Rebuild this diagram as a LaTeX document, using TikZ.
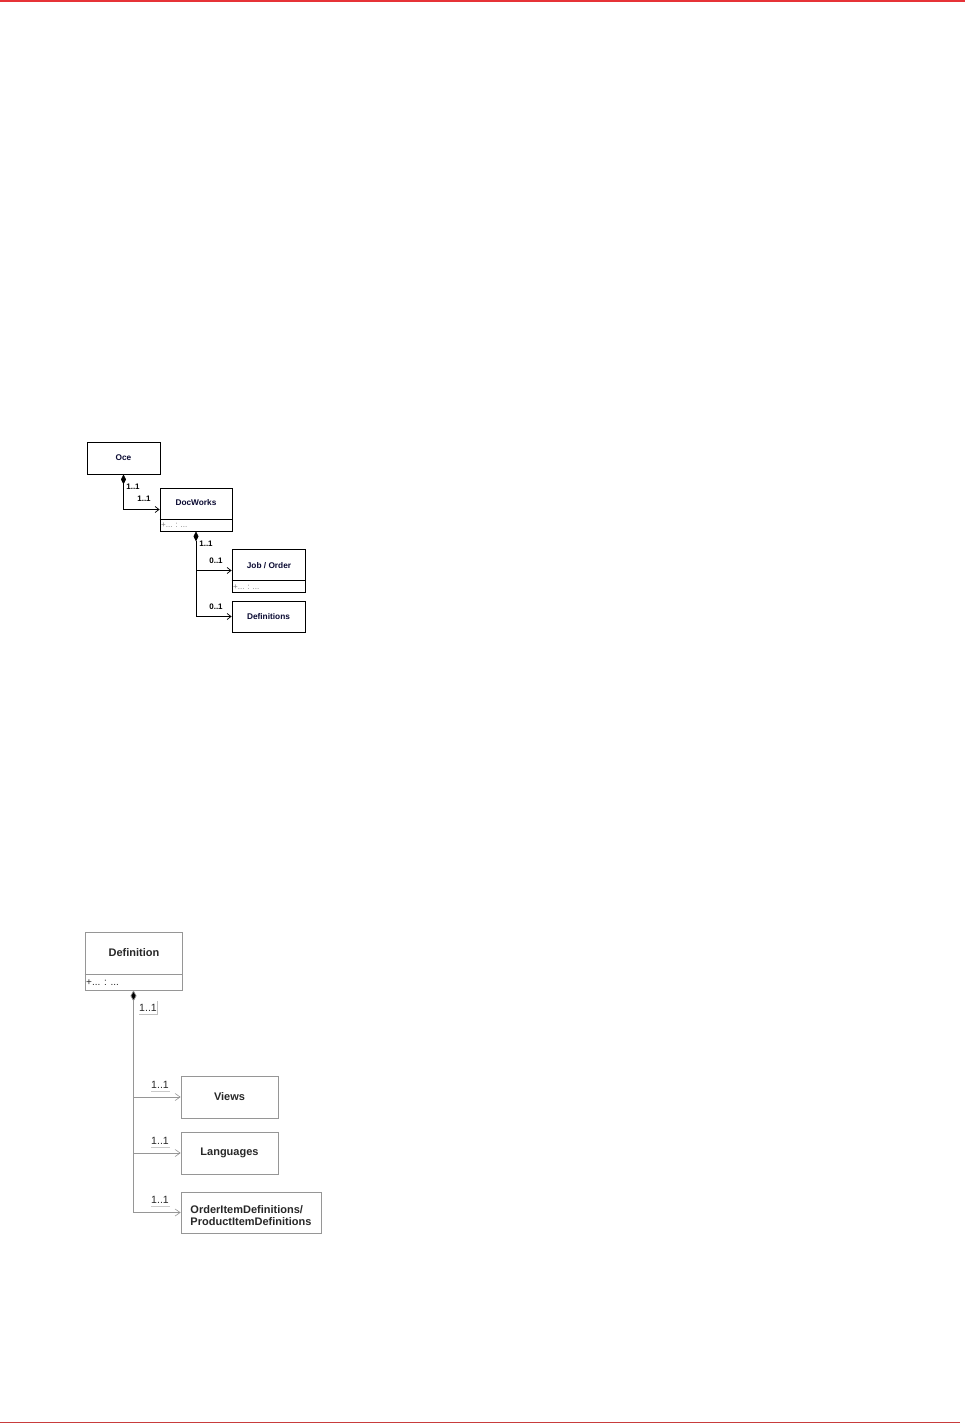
\documentclass[tikz,border=0pt]{standalone}
\usepackage{fontspec}
\setmainfont{Liberation Sans}
\usetikzlibrary{arrows.meta,calc}
\definecolor{redline}{RGB}{230,50,55}
\definecolor{redline2}{RGB}{200,60,60}
\definecolor{boxgray}{RGB}{150,150,150}
\definecolor{txtgray}{RGB}{40,40,40}
\definecolor{navytxt}{RGB}{10,10,50}
\tikzset{
  x=1pt,y=-1pt,
  topbox/.style={draw=black,line width=0.8pt,fill=white,inner sep=0pt,font=\fontsize{8.3}{9.6}\selectfont\bfseries,text=navytxt},
  botbox/.style={draw=boxgray,line width=0.7pt,fill=white,inner sep=0pt,font=\fontsize{11}{12.5}\selectfont\bfseries,text=txtgray},
  toplink/.style={draw=black,line width=0.8pt,-{Straight Barb[length=4pt,width=6pt,line width=0.7pt]}},
  toplinkd/.style={toplink,{Diamond[length=10pt,width=5pt]}-{Straight Barb[length=4pt,width=6pt,line width=0.7pt]}},
  botlink/.style={draw=boxgray,line width=0.7pt,-{Straight Barb[length=5pt,width=7pt,line width=0.6pt]}},
  botlinkd/.style={botlink,{Diamond[length=11pt,width=6pt,fill=black]}-{Straight Barb[length=5pt,width=7pt,line width=0.6pt]}},
  toplbl/.style={inner sep=0pt,font=\fontsize{8}{9}\selectfont\bfseries,text=black},
  botlbl/.style={inner sep=0pt,font=\fontsize{10.5}{12}\selectfont,text=txtgray},
  attrtop/.style={inner sep=0pt,anchor=west,font=\fontsize{8}{9}\selectfont,text=gray},
  attrbot/.style={inner sep=0pt,anchor=west,font=\fontsize{10}{11}\selectfont,text=txtgray},
}
\begin{document}
\begin{tikzpicture}
\useasboundingbox (0,0) rectangle (965,1424);
\fill[white] (0,0) rectangle (965,1424);
% page rules
\draw[redline,line width=1.5pt] (0,0.8) -- (965,0.8);
\draw[redline2,line width=1.2pt] (0,1422.8) -- (960,1422.8);

% ---------- top diagram ----------
\node[topbox,minimum width=73,minimum height=32] (oce) at (123.5,458) {Oce};
\node[topbox,minimum width=72,minimum height=43] (dw) at (196,509.5) {};
\node[topbox,draw=none,fill=none] (dwt) at (196,502.5) {DocWorks};
\draw[black,line width=0.6pt] (dw.west |- 0,519) -- (dw.east |- 0,519);
\node[attrtop] (dwa) at (161,525) {+... : ...};

\node[topbox,minimum width=73,minimum height=43] (job) at (268.5,570.5) {};
\node[topbox,draw=none,fill=none] (jobt) at (269,565.5) {Job / Order};
\draw[black,line width=0.6pt] (job.west |- 0,580) -- (job.east |- 0,580);
\node[attrtop] (joba) at (233,587) {+... : ...};

\node[topbox,minimum width=73,minimum height=31] (defs) at (268.5,616.5) {Definitions};

\draw[toplinkd] (oce.south) |- (dw.west);
\node[toplbl] (l1) at (133,487) {1..1};
\node[toplbl] (l2) at (144,499) {1..1};

\draw[toplinkd] (dw.south) |- (defs.west);
\draw[toplink,line width=1.4pt] (dw.south |- job.west) -- (job.west);
\node[toplbl] (l3) at (206,544) {1..1};
\node[toplbl] (l4) at (216,561) {0..1};
\node[toplbl] (l5) at (216,607) {0..1};

% ---------- bottom diagram ----------
\node[botbox,minimum width=97,minimum height=58] (def) at (133.5,961) {};
\node[botbox,draw=none,fill=none] (deft) at (134,953) {Definition};
\draw[boxgray,line width=0.6pt] (def.west |- 0,974) -- (def.east |- 0,974);
\node[attrbot] (defa) at (86,983) {+... : ...};

\node[botbox,minimum width=97,minimum height=42] (views) at (229.5,1097) {Views};
\node[botbox,minimum width=97,minimum height=42] (lang) at (229.5,1153) {Languages};
\node[botbox,minimum width=140,minimum height=41] (oid) at (251,1212.5) {};
\node[botbox,draw=none,fill=none,align=left] (oidt) at (251,1215.5) {OrderItemDefinitions/\\ProductItemDefinitions};

\draw[botlinkd] (def.south) |- (oid.west);
\draw[botlink] (def.south |- views.west) -- (views.west);
\draw[botlink] (def.south |- lang.west) -- (lang.west);

\node[botlbl] (b0) at (148,1008) {1..1};
\draw[boxgray!60,line width=0.5pt] (139,1014) -- (157,1014) -- (157,1001);
\node[botlbl] (b1) at (160,1085) {1..1};
\node[botlbl] (b2) at (160,1141) {1..1};
\node[botlbl] (b3) at (160,1200) {1..1};
\foreach \yy in {1091,1147,1206}
  \draw[boxgray!50,line width=0.4pt] (151,\yy) -- (170,\yy);
\end{tikzpicture}
\end{document}
